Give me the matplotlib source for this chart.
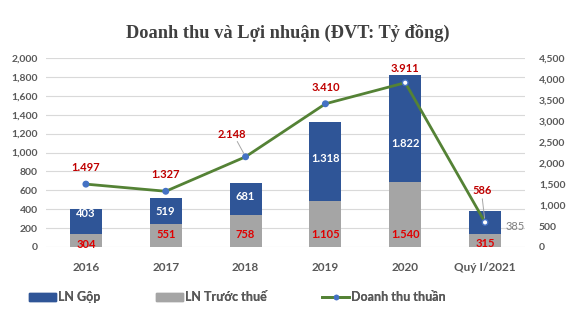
import matplotlib
matplotlib.use("Agg")
import matplotlib.pyplot as plt
import numpy as np
from matplotlib.lines import Line2D
from matplotlib.patches import Patch

categories = ["2016", "2017", "2018", "2019", "2020", "Quý I/2021"]
ln_gop = [403, 519, 681, 1318, 1822, 385]
ln_truoc_thue = [304, 551, 758, 1105, 1540, 315]
doanh_thu = [1497, 1327, 2148, 3410, 3911, 586]

title = "Doanh thu và Lợi nhuận (ĐVT: Tỷ đồng)"
series_names = ["LN Gộp", "LN Trước thuế", "Doanh thu thuần"]
left_ticks = list(range(0, 2001, 200))
right_ticks = list(range(0, 4501, 500))

def vn(v):
    return f"{v:,}".replace(",", ".")

plt.rcParams['font.family'] = ['Lato', 'DejaVu Sans']
BLUE = "#2f5597"
GRAY = "#a5a5a5"
GREEN = "#548235"
MARK = "#4472c4"
RED = "#e00000"
TXT = "#595959"

fig = plt.figure(figsize=(5.76, 3.23), dpi=100)
ax = fig.add_axes([46/576, 1-247/323, (525-46)/576, (247-58)/323])
ax2 = ax.twinx()

x = np.arange(len(categories))
w = 0.4
ax.bar(x, ln_gop, width=w, color=BLUE, zorder=2)
ax.set_ylim(0, 2000)
ax.set_xlim(-0.5, len(categories) - 0.5)
ax.set_yticks(left_ticks)
ax.set_yticklabels([f"{t:,}" for t in left_ticks])
ax.grid(axis='y', color="#d9d9d9", linewidth=0.8, zorder=0)
ax.set_axisbelow(True)
ax.set_xticks(x)
ax.set_xticklabels(categories)
for s in ax.spines.values():
    s.set_visible(False)
for s in ax2.spines.values():
    s.set_visible(False)
ax.tick_params(axis='both', length=0, colors=TXT)
ax.tick_params(axis='y', labelsize=7.5, pad=6)
ax.tick_params(axis='x', labelsize=8.5, pad=11)
for lbl in ax.get_xticklabels() + ax.get_yticklabels():
    lbl.set_fontweight('bold')

ax2.bar(x, ln_truoc_thue, width=w, color=GRAY, zorder=2)
ax2.plot(x, doanh_thu, color=GREEN, linewidth=2.0, zorder=3)
faces = [MARK, MARK, MARK, MARK, "white", "white"]
ax2.scatter(x, doanh_thu, s=16, facecolors=faces, edgecolors=MARK, linewidths=1.0, zorder=4)
ax2.set_ylim(0, 4500)
ax2.set_yticks(right_ticks)
ax2.set_yticklabels([f"{t:,}" for t in right_ticks])
ax2.tick_params(axis='y', length=0, colors=TXT, labelsize=7.5, pad=10)
for lbl in ax2.get_yticklabels():
    lbl.set_fontweight('bold')

# blue bar labels
blue_frac = [0.87, 0.73, 0.79, 0.71, 0.60]
for i in range(5):
    ax.text(x[i], ln_gop[i] * blue_frac[i], vn(ln_gop[i]), color="white",
            ha='center', va='center', fontsize=8, fontweight='bold', zorder=5)
ax.annotate(vn(ln_gop[5]), (x[5] + w/2, ln_gop[5] * 0.55), xytext=(3, 0),
            textcoords='offset points', ha='left', va='center', color="#7f7f7f",
            fontsize=8, zorder=5)

# gray bar labels
for i, v in enumerate(ln_truoc_thue):
    h = v / 4500 * 189
    off = min(12, max(2, h - 10)) * 0.72
    ax2.annotate(vn(v), (x[i], 0), xytext=(0, off), textcoords='offset points',
                 ha='center', va='center', color=RED, fontsize=8, fontweight='bold', zorder=5)

# line labels
line_off = [(0, 12), (0, 12), (-10, 16), (0, 12), (0, 10), (-2, 23)]
for i, v in enumerate(doanh_thu):
    dx, dy = line_off[i]
    ax2.annotate(vn(v), (x[i], v), xytext=(dx, dy), textcoords='offset points',
                 ha='center', va='center', color="#c00000", fontsize=8, fontweight='bold', zorder=6)
ax2.annotate("", xy=(x[2], doanh_thu[2]), xycoords='data',
             xytext=(-6, 11), textcoords='offset points',
             arrowprops=dict(arrowstyle='-', color="#a6a6a6", lw=0.7, shrinkA=0, shrinkB=3))
ax2.annotate("", xy=(x[5], doanh_thu[5]), xycoords='data',
             xytext=(-2, 17), textcoords='offset points',
             arrowprops=dict(arrowstyle='-', color="#a6a6a6", lw=0.7, shrinkA=0, shrinkB=3))

fig.text(288/576, 1-33/323, title, ha='center', va='center', fontsize=13.2,
         fontweight='bold', color="#404040", family='Liberation Serif')

handles = [Patch(color=BLUE), Patch(color=GRAY),
           Line2D([0], [0], color=GREEN, lw=2, marker='o', markersize=3,
                  markerfacecolor=MARK, markeredgecolor=MARK)]
leg_x = [30, 157, 323]
for hnd, name, lx in zip(handles, series_names, leg_x):
    leg = fig.legend([hnd], [name], loc='center left',
                     bbox_to_anchor=(lx/576 - 0.001, 1-297/323),
                     frameon=False, fontsize=9, handlelength=2.1,
                     handleheight=0.6, handletextpad=0.2, borderpad=0, borderaxespad=0)
    for t in leg.get_texts():
        t.set_color(TXT)
        t.set_fontweight('bold')
    fig.add_artist(leg)

fig.savefig("out.png", dpi=100)
